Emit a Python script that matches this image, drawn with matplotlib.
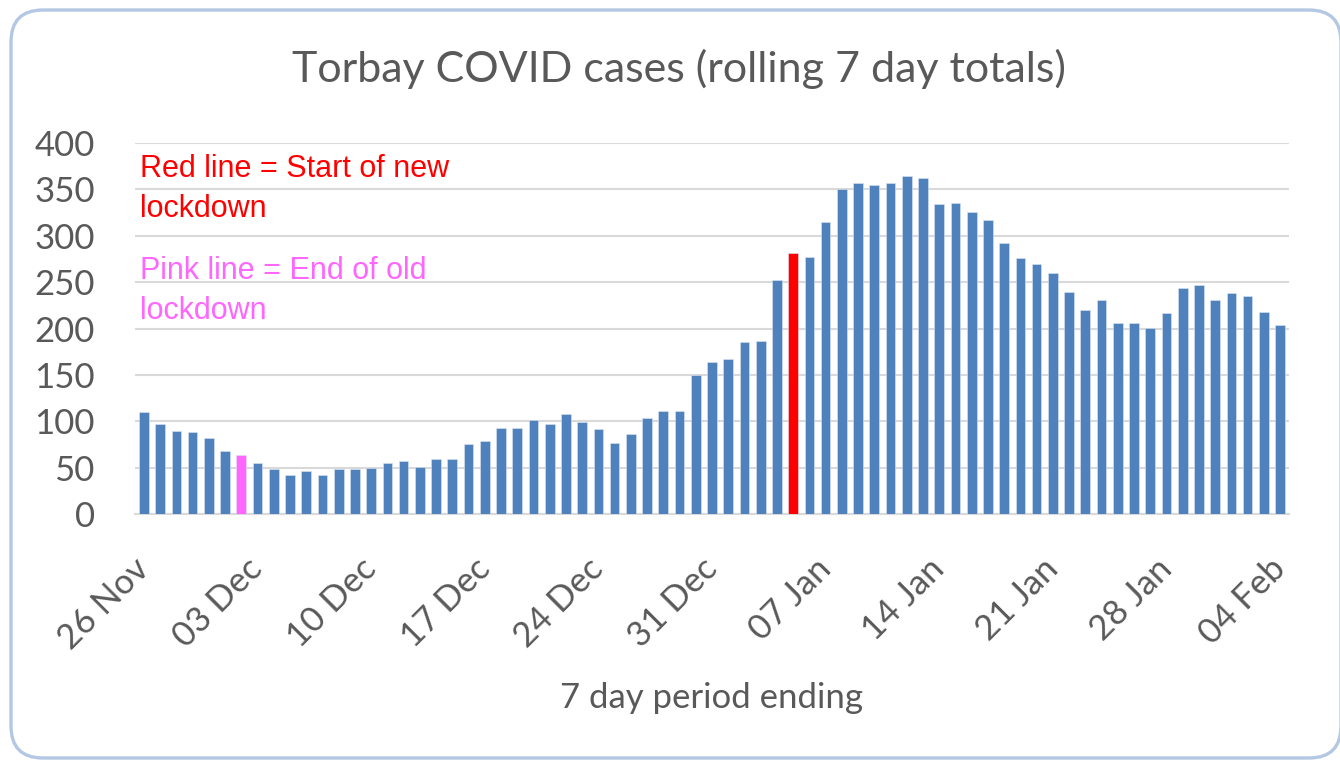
import numpy as np
import matplotlib
matplotlib.use("Agg")
import matplotlib.pyplot as plt
from matplotlib.patches import FancyBboxPatch

# rolling 7 day totals, one per day 26 Nov .. 04 Feb
cases = [110, 97, 90, 88, 82, 68, 64, 55, 48, 42,
         46, 42, 48, 48, 50, 55, 57, 51, 59, 59,
         75, 79, 93, 93, 101, 97, 108, 99, 92, 77,
         86, 104, 111, 111, 150, 164, 167, 185, 187, 252,
         281, 277, 315, 350, 357, 355, 357, 364, 362, 334,
         335, 326, 317, 292, 276, 270, 260, 239, 220, 231,
         206, 206, 201, 217, 244, 247, 231, 238, 235, 218, 204]
tick_labels = ["26 Nov", "03 Dec", "10 Dec", "17 Dec", "24 Dec", "31 Dec",
               "07 Jan", "14 Jan", "21 Jan", "28 Jan", "04 Feb"]
old_lockdown_end = 6    # 02 Dec
new_lockdown_start = 40  # 05 Jan

BLUE = "#4F81BD"
GREY = "#595959"
FONT = "Lato"

colors = [BLUE] * len(cases)
colors[old_lockdown_end] = "#FF66FF"
colors[new_lockdown_start] = "#FF0000"

fig = plt.figure(figsize=(13.4, 7.62), dpi=100)
fig.patch.set_facecolor("white")

# rounded chart border (inches, so the corners stay round)
border = FancyBboxPatch((0.11, 0.04), 13.3, 7.48,
                        boxstyle="round,pad=0,rounding_size=0.32",
                        transform=fig.dpi_scale_trans, facecolor="none",
                        edgecolor="#B4C8E4", linewidth=2.4, zorder=-1)
fig.patches.append(border)

ax = fig.add_axes([135 / 1340, 248 / 762, 1154 / 1340, 371 / 762])
ax.set_facecolor("none")
x = np.arange(len(cases))
ax.bar(x, cases, width=0.6, color=colors, edgecolor="#DCE6F2", linewidth=0.4, zorder=3)

ax.set_xlim(-0.55, len(cases) - 0.45)
ax.set_ylim(0, 400)
ax.set_yticks(range(0, 401, 50))
ax.grid(axis="y", color="#D9D9D9", linewidth=1.5, zorder=0)
for s in ["top", "right", "left"]:
    ax.spines[s].set_visible(False)
ax.spines["bottom"].set_color("#D9D9D9")
ax.spines["bottom"].set_linewidth(1.5)
ax.tick_params(axis="both", length=0)
ax.tick_params(axis="y", pad=29)
for lab in ax.get_yticklabels():
    lab.set_fontsize(25)
    lab.set_color(GREY)
    lab.set_fontfamily(FONT)

ax.set_xticks(x[::7])
ax.set_xticklabels(tick_labels, rotation=45, ha="right", va="center",
                   rotation_mode="anchor", fontsize=25, color=GREY, family=FONT)
ax.tick_params(axis="x", pad=36)

ax.set_xlabel("7 day period ending", fontsize=25, color=GREY, family=FONT, labelpad=19)
fig.text(0.507, 0.91, "Torbay COVID cases (rolling 7 day totals)", ha="center", va="center",
         fontsize=31, color=GREY, family=FONT)

ax.text(140 / 1340, (762 - 189) / 762, "Red line = Start of new\nlockdown", transform=fig.transFigure,
        color="#FF0000", fontsize=22, family="Liberation Sans", va="center", linespacing=1.45)
ax.text(140 / 1340, (762 - 291) / 762, "Pink line = End of old\nlockdown",
        transform=fig.transFigure, color="#FF66FF", fontsize=22, family="Liberation Sans",
        va="center", linespacing=1.45)

fig.savefig("out.png", dpi=100)
